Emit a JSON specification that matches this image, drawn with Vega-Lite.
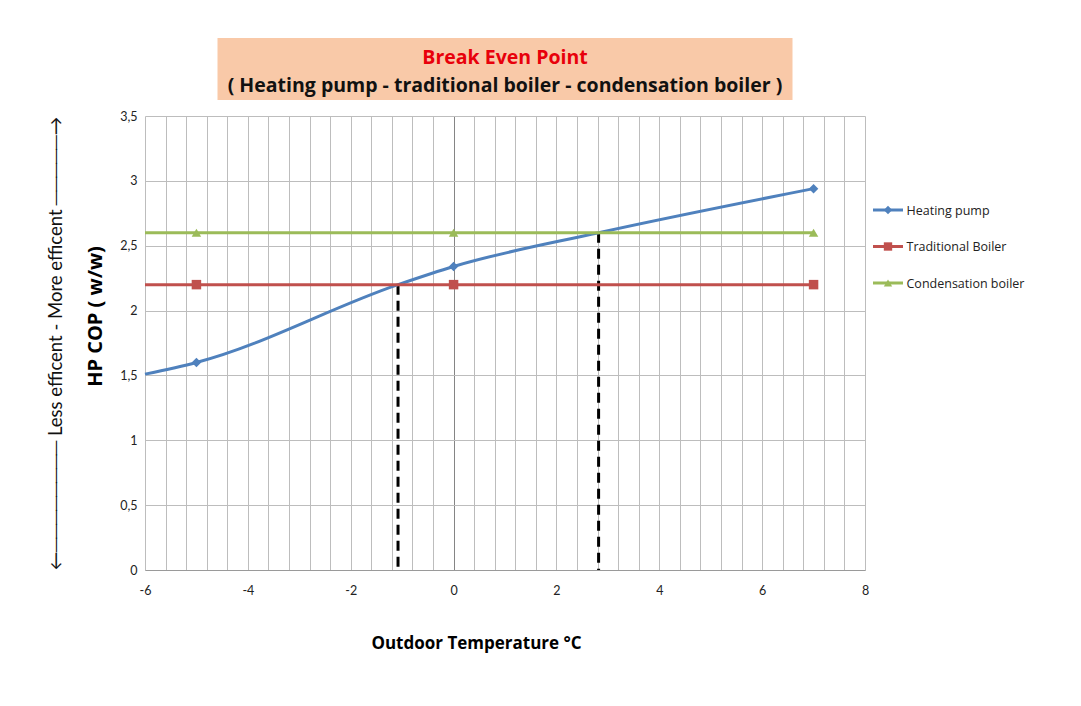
{
  "$schema": "https://vega.github.io/schema/vega-lite/v6.json",
  "background": "white",
  "padding": {"left": 46, "top": 38, "right": 5, "bottom": 5},
  "config": {"font": "Lato", "view": {"stroke": null}},
  "datasets": {
    "series": [
      {"series": "Heating pump", "temp": -6, "cop": 1.51},
      {"series": "Heating pump", "temp": -5, "cop": 1.6},
      {"series": "Heating pump", "temp": -1.08, "cop": 2.2},
      {"series": "Heating pump", "temp": 0, "cop": 2.34},
      {"series": "Heating pump", "temp": 2.82, "cop": 2.6},
      {"series": "Heating pump", "temp": 7, "cop": 2.94},
      {"series": "Traditional Boiler", "temp": -6, "cop": 2.2},
      {"series": "Traditional Boiler", "temp": -5, "cop": 2.2},
      {"series": "Traditional Boiler", "temp": 0, "cop": 2.2},
      {"series": "Traditional Boiler", "temp": 7, "cop": 2.2},
      {"series": "Condensation boiler", "temp": -6, "cop": 2.6},
      {"series": "Condensation boiler", "temp": -5, "cop": 2.6},
      {"series": "Condensation boiler", "temp": 0, "cop": 2.6},
      {"series": "Condensation boiler", "temp": 7, "cop": 2.6}
    ],
    "breakeven": [
      {"crossing": "Traditional Boiler", "temp": -1.08, "cop": 2.2, "base": 0},
      {"crossing": "Condensation boiler", "temp": 2.82, "cop": 2.6, "base": 0}
    ],
    "heading": [
      {"row": 1, "box": "t", "text": "Break Even Point"},
      {"row": 2, "box": "t", "text": "( Heating pump - traditional boiler - condensation boiler )"}
    ]
  },
  "spacing": 4,
  "hconcat": [
    {
      "bounds": "flush",
      "center": true,
      "spacing": 16,
      "vconcat": [
        {
          "width": 575,
          "height": 62,
          "data": {"name": "heading"},
          "layer": [
            {
              "transform": [{"filter": "datum.row === 1"}],
              "mark": {"type": "rect", "color": "#F9C9A8"},
              "encoding": {}
            },
            {
              "mark": {"type": "text", "font": "Open Sans", "fontWeight": "bold", "fontSize": 19.5, "dy": 3},
              "encoding": {
                "x": {"field": "box", "type": "nominal", "axis": null},
                "y": {"field": "row", "type": "ordinal", "axis": null, "scale": {"type": "point", "padding": 0.6}},
                "text": {"field": "text"},
                "color": {"condition": {"test": "datum.row === 1", "value": "#E8000B"}, "value": "#111111"}
              }
            }
          ]
        },
        {
          "width": 720,
          "height": 454,
          "resolve": {"axis": {"x": "independent", "y": "independent"}},
          "layer": [
            {
              "data": {"name": "breakeven"},
              "mark": {"type": "rule", "strokeWidth": 3, "strokeDash": [10, 6], "color": "#000000"},
              "encoding": {
                "x": {
                  "field": "temp",
                  "type": "quantitative",
                  "axis": {
                    "orient": "bottom",
                    "title": null,
                    "values": [-6, -5.6, -5.2, -4.8, -4.4, -4, -3.6, -3.2, -2.8, -2.4, -2, -1.6, -1.2, -0.8, -0.4, 0, 0.4, 0.8, 1.2, 1.6, 2, 2.4, 2.8, 3.2, 3.6, 4, 4.4, 4.8, 5.2, 5.6, 6, 6.4, 6.8, 7.2, 7.6, 8],
                    "labels": false,
                    "ticks": false,
                    "grid": true,
                    "gridColor": {"condition": {"test": "datum.value === 0", "value": "#858585"}, "value": "#BDBDBD"},
                    "gridOpacity": 1,
                    "domain": true,
                    "domainColor": "#9A9A9A"
                  }
                },
                "y": {"field": "cop", "type": "quantitative", "axis": null},
                "y2": {"field": "base"}
              }
            },
            {
              "data": {"name": "series"},
              "mark": {"type": "line", "strokeWidth": 3, "interpolate": "monotone"},
              "encoding": {
                "x": {
                  "field": "temp",
                  "type": "quantitative",
                  "scale": {"domain": [-6, 8], "nice": false, "zero": false},
                  "axis": {
                    "orient": "bottom",
                    "title": "Outdoor Temperature °C",
                    "titleFont": "Open Sans",
                    "titleFontSize": 17,
                    "titleFontWeight": "bold",
                    "titleColor": "#000000",
                    "titleX": 331,
                    "titleY": 65,
                    "titleBaseline": "top",
                    "values": [-6, -4, -2, 0, 2, 4, 6, 8],
                    "labelExpr": "'' + datum.value",
                    "labelOverlap": false,
                    "labelFlush": false,
                    "labelFontSize": 12.5,
                    "labelColor": "#222222",
                    "labelPadding": 14,
                    "ticks": false,
                    "grid": false,
                    "domain": false
                  }
                },
                "y": {
                  "field": "cop",
                  "type": "quantitative",
                  "scale": {"domain": [0, 3.5], "nice": false},
                  "axis": {
                    "title": "HP COP ( w/w)",
                    "titleFont": "Open Sans",
                    "titleFontSize": 20,
                    "titleFontWeight": "bold",
                    "titleColor": "#000000",
                    "titlePadding": 14,
                    "titleY": 200,
                    "values": [0, 0.5, 1, 1.5, 2, 2.5, 3, 3.5],
                    "labelExpr": "replace('' + datum.value, '.', ',')",
                    "labelFontSize": 12.5,
                    "labelColor": "#222222",
                    "labelPadding": 8,
                    "ticks": false,
                    "domain": false,
                    "grid": true,
                    "gridColor": "#BDBDBD",
                    "gridOpacity": 1
                  }
                },
                "color": {
                  "field": "series",
                  "type": "nominal",
                  "scale": {"domain": ["Heating pump", "Traditional Boiler", "Condensation boiler"], "range": ["#4F81BD", "#C0504D", "#9BBB59"]},
                  "legend": null
                }
              }
            },
            {
              "data": {"name": "series"},
              "transform": [{"filter": "datum.temp > -6 && datum.temp % 1 === 0"}],
              "mark": {"type": "point", "filled": true, "opacity": 1, "size": 90},
              "encoding": {
                "x": {"field": "temp", "type": "quantitative", "axis": null},
                "y": {
                  "field": "cop",
                  "type": "quantitative",
                  "axis": {
                    "orient": "left",
                    "offset": 60,
                    "title": "←──────── Less efficent - More efficent ─────→",
                    "titleFontSize": 18.5,
                    "titleFontWeight": "normal",
                    "titleColor": "#111111",
                    "titlePadding": 20,
                    "labels": false,
                    "ticks": false,
                    "domain": false,
                    "grid": false
                  }
                },
                "color": {"field": "series", "type": "nominal", "legend": null},
                "shape": {
                  "field": "series",
                  "type": "nominal",
                  "scale": {"domain": ["Heating pump", "Traditional Boiler", "Condensation boiler"], "range": ["diamond", "square", "triangle-up"]},
                  "legend": null
                }
              }
            }
          ]
        }
      ]
    },
    {
      "width": 30,
      "height": 417,
      "data": {"name": "series"},
      "transform": [{"filter": "datum.temp === 7"}],
      "layer": [
        {
          "mark": {"type": "tick", "orient": "horizontal", "size": 30, "thickness": 3, "opacity": 1},
          "encoding": {
            "x": {"datum": 0.5, "type": "quantitative", "scale": {"domain": [0, 1]}, "axis": null},
            "y": {
              "field": "series",
              "type": "nominal",
              "scale": {"type": "point", "padding": 0, "range": [172, 245], "domain": ["Heating pump", "Traditional Boiler", "Condensation boiler"]},
              "axis": {"orient": "right", "title": null, "domain": false, "ticks": false, "grid": false, "labelPadding": 3, "labelFont": "Open Sans", "labelFontSize": 12.5, "labelColor": "#222222"}
            },
            "color": {
              "field": "series",
              "type": "nominal",
              "scale": {"domain": ["Heating pump", "Traditional Boiler", "Condensation boiler"], "range": ["#4F81BD", "#C0504D", "#9BBB59"]},
              "legend": null
            }
          }
        },
        {
          "mark": {"type": "point", "filled": true, "opacity": 1, "size": 70},
          "encoding": {
            "x": {"datum": 0.5, "type": "quantitative"},
            "y": {"field": "series", "type": "nominal"},
            "color": {"field": "series", "type": "nominal", "legend": null},
            "shape": {
              "field": "series",
              "type": "nominal",
              "scale": {"domain": ["Heating pump", "Traditional Boiler", "Condensation boiler"], "range": ["diamond", "square", "triangle-up"]},
              "legend": null
            }
          }
        }
      ]
    }
  ]
}
